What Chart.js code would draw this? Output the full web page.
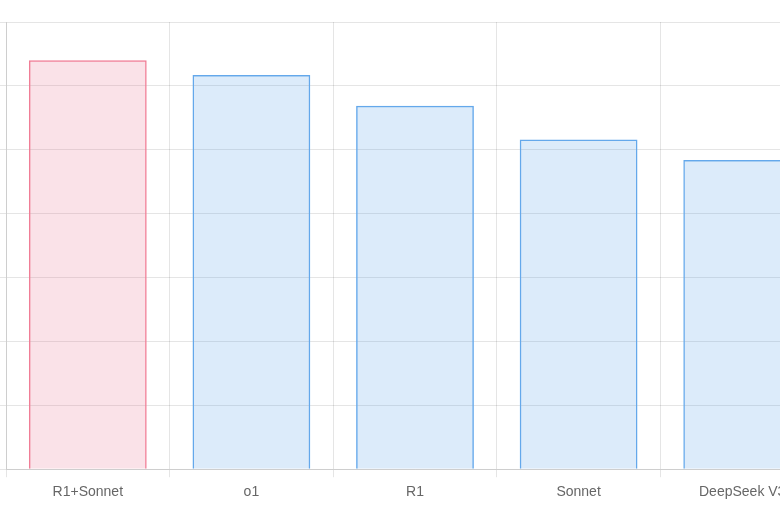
<!DOCTYPE html>
<html>
<head>
<meta charset="utf-8">
<script src="https://cdn.jsdelivr.net/npm/chart.js@4"></script>
<style>
  html, body { margin: 0; padding: 0; background: #fff; }
  #frame { position: relative; width: 780px; height: 516px; overflow: hidden; }
  #wrap { position: absolute; left: -54px; top: 0; width: 878px; height: 516px; }
</style>
</head>
<body>
<div id="frame">
  <div id="wrap"><canvas id="chartCanvas"></canvas></div>
</div>
<script>
const models = ["R1+Sonnet", "o1", "R1", "Sonnet", "DeepSeek V3"];
const scores = [64.0, 61.7, 56.9, 51.6, 48.4];
const yTicks = [0, 10, 20, 30, 40, 50, 60, 70];

// first bar is highlighted, rest are blue
function barColors(fill) {
  return models.map((_, i) => i === 0
    ? (fill ? "rgba(225, 95, 125, 0.18)" : "rgb(240, 125, 150)")
    : (fill ? "rgba(70, 150, 230, 0.19)" : "rgb(100, 168, 235)"));
}

Chart.defaults.font.family = "'Liberation Sans', Arial, sans-serif";
Chart.defaults.font.size = 14;
Chart.defaults.color = "#666";

const chart = new Chart(document.getElementById("chartCanvas"), {
  type: "bar",
  data: {
    labels: models,
    datasets: [{
      label: "Percent completed correctly",
      data: scores,
      backgroundColor: barColors(true),
      borderColor: barColors(false),
      borderWidth: 1.5
    }]
  },
  options: {
    responsive: true,
    maintainAspectRatio: false,
    animation: false,
    layout: { padding: { top: 22, left: 0, right: 0, bottom: 8 } },
    plugins: {
      legend: { display: false },
      title: { display: false },
      tooltip: { enabled: false }
    },
    scales: {
      y: {
        min: yTicks[0],
        max: yTicks[yTicks.length - 1],
        ticks: { stepSize: 10 },
        afterFit: s => { s.width = 60; }
      },
      x: {
        ticks: { font: { lineHeight: 1.77 } }
      }
    }
  }
});
</script>
</body>
</html>
